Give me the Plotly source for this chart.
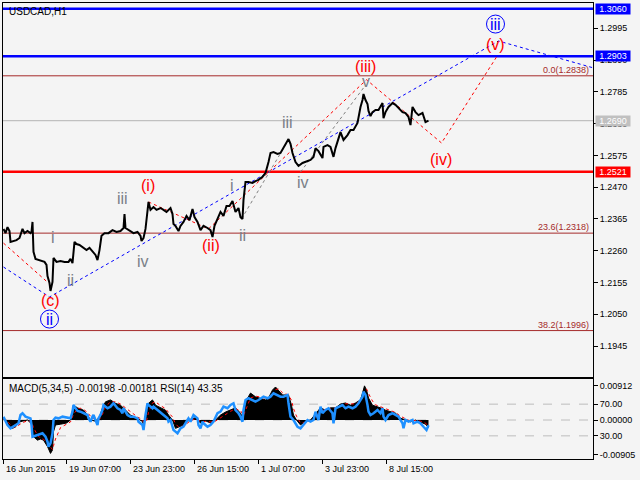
import plotly.graph_objects as go

# ---------------- data ----------------
price_bar = [0, 2, 4, 6, 7, 10, 13, 16, 18, 19, 21, 24, 27, 28, 29, 30, 32, 35, 38, 41, 43, 44, 46, 47, 49, 50,
             53, 57, 61, 65, 67, 69, 71, 73, 76, 79, 83, 86, 89, 92, 94, 96, 98, 101, 105, 109, 113, 117, 120,
             121, 122, 125, 130, 134, 137, 138, 140, 142, 144, 145, 147, 150, 153, 157, 160, 163, 167, 169, 170,
             172, 175, 177, 180, 183, 186, 189, 191, 194, 197, 200, 204, 207, 209, 211, 214, 217, 220, 223, 226,
             229, 232, 235, 237, 239, 240, 242, 245, 249, 252, 255, 259, 262, 265, 267, 270, 274, 277, 280, 285,
             287, 289, 292, 295, 299, 302, 305, 307, 310, 312, 315, 319, 320, 324, 327, 330, 332, 335, 337, 340,
             344, 347, 350, 354, 355, 357, 359, 360, 362, 364, 365, 367, 369, 372, 375, 379, 380, 382, 385, 389,
             392, 395, 399, 402, 405, 407, 409, 412, 415, 419, 422, 425]
price_close = [1.2332, 1.2318, 1.2338, 1.2325, 1.2289, 1.2292, 1.2295, 1.2302, 1.2318, 1.2332, 1.2318, 1.2325,
               1.2318, 1.2322, 1.2355, 1.2256, 1.2233, 1.2229, 1.2226, 1.2223, 1.2213, 1.2176, 1.2153, 1.2127,
               1.2157, 1.2236, 1.2223, 1.2226, 1.2223, 1.2223, 1.2233, 1.2219, 1.2289, 1.2282, 1.2279, 1.2272,
               1.2262, 1.2269, 1.2259, 1.2246, 1.2229, 1.2262, 1.2309, 1.2318, 1.2318, 1.2328, 1.2322, 1.2325,
               1.2335, 1.2381, 1.2335, 1.2328, 1.2318, 1.2322, 1.2309, 1.2292, 1.2302, 1.2332, 1.2385, 1.2421,
               1.2395, 1.2404, 1.2395, 1.2401, 1.2395, 1.2388, 1.2401, 1.2381, 1.2348, 1.2342, 1.2325, 1.2342,
               1.2355, 1.2375, 1.2361, 1.2398, 1.2371, 1.2355, 1.2328, 1.2342, 1.2335, 1.2328, 1.2305, 1.2342,
               1.2365, 1.2388, 1.2375, 1.2408, 1.2408, 1.2424, 1.2388, 1.2401, 1.2371, 1.2365, 1.2428, 1.2487,
               1.2487, 1.2484, 1.2490, 1.2494, 1.2504, 1.2517, 1.2553, 1.2583, 1.2586, 1.2580, 1.2583, 1.2599,
               1.2629, 1.2613, 1.2583, 1.2553, 1.2540, 1.2550, 1.2553, 1.2556, 1.2560, 1.2570, 1.2599, 1.2589,
               1.2566, 1.2603, 1.2609, 1.2603, 1.2570, 1.2599, 1.2636, 1.2652, 1.2626, 1.2642, 1.2659, 1.2659,
               1.2682, 1.2702, 1.2735, 1.2758, 1.2778, 1.2758, 1.2745, 1.2722, 1.2705, 1.2718, 1.2725, 1.2725,
               1.2748, 1.2698, 1.2718, 1.2735, 1.2748, 1.2742, 1.2732, 1.2718, 1.2715, 1.2702, 1.2675, 1.2735,
               1.2718, 1.2708, 1.2715, 1.2685, 1.2690]

macd_bar = [0, 3, 6, 9, 12, 15, 19, 24, 28, 30, 34, 37, 40, 44, 47, 49, 50, 52, 57, 63, 67, 70, 74, 77, 80, 84,
            87, 92, 96, 99, 102, 107, 112, 117, 122, 127, 134, 139, 140, 143, 145, 149, 152, 157, 162, 165, 169,
            172, 175, 180, 184, 187, 192, 197, 202, 207, 212, 217, 222, 227, 232, 237, 240, 243, 247, 252, 257,
            262, 265, 269, 272, 275, 279, 285, 288, 290, 293, 297, 302, 307, 312, 317, 322, 327, 332, 337, 342,
            347, 352, 357, 359, 361, 363, 365, 369, 372, 377, 382, 387, 392, 397, 402, 407, 412, 417, 422, 425]
macd_main = [0.0004, -0.0004, -0.0018, -0.0022, -0.0018, -0.0006, -0.0003, 0.0000, -0.0010, -0.0044, -0.0053,
             -0.0050, -0.0053, -0.0070, -0.0088, -0.0079, -0.0031, -0.0013, -0.0011, -0.0008, 0.0000, 0.0039,
             0.0032, 0.0029, 0.0026, 0.0013, 0.0000, -0.0003, 0.0008, 0.0032, 0.0048, 0.0053, 0.0044, 0.0039,
             0.0026, 0.0013, 0.0004, -0.0004, -0.0013, 0.0010, 0.0044, 0.0053, 0.0039, 0.0032, 0.0026, 0.0013,
             0.0000, -0.0022, -0.0018, -0.0013, -0.0004, 0.0002, 0.0006, -0.0008, -0.0002, -0.0008, 0.0000,
             0.0013, 0.0021, 0.0026, 0.0032, 0.0018, 0.0002, 0.0053, 0.0071, 0.0061, 0.0058, 0.0053, 0.0058,
             0.0079, 0.0087, 0.0079, 0.0066, 0.0066, 0.0039, 0.0013, 0.0000, -0.0013, -0.0003, 0.0000, 0.0016,
             0.0032, 0.0026, 0.0032, 0.0032, 0.0042, 0.0045, 0.0039, 0.0045, 0.0053, 0.0071, 0.0090, 0.0079,
             0.0058, 0.0039, 0.0037, 0.0032, 0.0026, 0.0021, 0.0018, 0.0005, 0.0000, -0.0005, 0.0000, -0.0005,
             -0.0011, -0.00198]
macd_signal = [0.0002, 0.0000, -0.0010, -0.0016, -0.0019, -0.0014, -0.0007, -0.0002, -0.0004, -0.0020, -0.0040,
               -0.0048, -0.0051, -0.0060, -0.0072, -0.0078, -0.0068, -0.0050, -0.0020, -0.0011, -0.0005, 0.0015,
               0.0030, 0.0031, 0.0028, 0.0020, 0.0010, 0.0001, 0.0002, 0.0015, 0.0035, 0.0048, 0.0048, 0.0042,
               0.0032, 0.0020, 0.0008, 0.0001, -0.0006, -0.0003, 0.0020, 0.0045, 0.0048, 0.0038, 0.0030, 0.0020,
               0.0008, -0.0010, -0.0018, -0.0016, -0.0008, -0.0002, 0.0003, -0.0003, -0.0004, -0.0005, -0.0003,
               0.0006, 0.0016, 0.0023, 0.0029, 0.0025, 0.0012, 0.0030, 0.0058, 0.0063, 0.0060, 0.0056, 0.0056,
               0.0068, 0.0080, 0.0082, 0.0072, 0.0066, 0.0052, 0.0030, 0.0010, -0.0008, -0.0007, -0.0002, 0.0008,
               0.0024, 0.0028, 0.0030, 0.0032, 0.0038, 0.0043, 0.0042, 0.0043, 0.0049, 0.0060, 0.0078, 0.0082,
               0.0070, 0.0050, 0.0040, 0.0035, 0.0029, 0.0024, 0.0020, 0.0010, 0.0003, -0.0003, -0.0001, -0.0003,
               -0.0008, -0.00181]

rsi_bar = [0, 4, 7, 10, 15, 17, 19, 22, 27, 28, 29, 34, 39, 42, 44, 45, 47, 49, 50, 52, 55, 59, 64, 67, 69, 70,
           72, 74, 77, 80, 84, 85, 87, 89, 90, 92, 94, 95, 97, 99, 100, 104, 107, 110, 114, 117, 119, 120, 122,
           124, 127, 130, 134, 135, 139, 140, 142, 144, 145, 149, 150, 154, 157, 160, 164, 165, 167, 169, 170,
           172, 174, 177, 180, 184, 185, 187, 190, 194, 195, 197, 199, 200, 204, 207, 210, 214, 217, 220, 224,
           227, 230, 232, 235, 237, 239, 240, 242, 245, 249, 252, 255, 260, 264, 267, 270, 274, 277, 280, 284,
           285, 287, 290, 294, 297, 300, 304, 307, 310, 312, 315, 317, 319, 322, 325, 329, 330, 332, 335, 339,
           342, 345, 349, 352, 355, 359, 360, 362, 364, 365, 367, 370, 374, 377, 379, 380, 382, 385, 389, 392,
           395, 399, 400, 402, 405, 409, 410, 414, 417, 420, 423, 425]
rsi_val = [54.2, 43.7, 39.5, 41.6, 45.8, 56.3, 58.5, 54.2, 52.1, 43.7, 28.9, 31.1, 33.2, 28.9, 22.6, 16.3, 20.6,
           33.2, 50.0, 52.9, 52.1, 54.2, 52.9, 52.1, 60.5, 68.9, 64.8, 61.4, 60.5, 58.5, 56.3, 52.1, 47.9, 54.2,
           56.3, 50.0, 43.7, 52.1, 56.3, 62.6, 68.9, 64.8, 66.8, 71.1, 64.8, 62.6, 58.5, 64.8, 60.5, 56.3, 54.2,
           54.2, 52.1, 47.9, 43.7, 37.4, 56.3, 71.1, 68.9, 64.8, 66.8, 62.6, 58.5, 56.3, 52.1, 47.9, 50.0, 41.6,
           37.4, 35.3, 33.2, 39.5, 41.6, 50.0, 52.1, 47.9, 56.3, 52.1, 43.7, 39.5, 47.9, 45.8, 41.6, 43.7, 47.9,
           58.5, 60.5, 66.8, 64.8, 68.9, 71.1, 62.6, 58.5, 54.2, 47.9, 62.6, 75.2, 77.4, 75.2, 73.1, 75.2, 79.4,
           77.4, 79.4, 83.7, 81.6, 79.4, 79.4, 81.6, 71.1, 54.2, 50.0, 41.5, 39.5, 43.7, 50.0, 47.9, 50.0, 60.5,
           50.0, 66.8, 58.5, 62.6, 64.8, 58.5, 45.8, 64.8, 66.8, 68.9, 64.8, 66.8, 64.8, 66.8, 71.1, 79.4, 85.7,
           81.6, 68.9, 60.5, 56.3, 58.5, 62.6, 58.5, 64.8, 54.2, 50.0, 56.3, 58.5, 56.3, 54.2, 45.8, 39.5, 50.0,
           47.9, 50.0, 45.8, 47.9, 45.8, 41.5, 37.4, 43.35]

# Elliott wave dotted paths (None breaks a path)
blue_wave_bar = [0, 46, 495, 590]
blue_wave_price = [1.2206, 1.2107, 1.2953, 1.2864]
red_wave_bar = [0, 45, None, 145, 205, 363, 438, 493]
red_wave_price = [1.2285, 1.2153, None, 1.2421, 1.2332, 1.2825, 1.2616, 1.2900]
gray_wave_bar = [238, 285, None, 297, 360]
gray_wave_price = [1.2365, 1.2626, None, 1.2520, 1.2798]

# wave labels: text, bar, price, kind
label_text = ["i", "ii", "(c)", "ii", "iii", "iv", "(i)", "(ii)", "i", "ii", "iii", "iv", "v", "(iii)",
              "(iv)", "(v)", "iii"]
label_bar = [49, 67, 47, 46, 119, 139, 144, 207, 228, 239, 284, 299, 362, 362, 437, 492, 492]
label_price = [1.2302, 1.2163, 1.2097, 1.2034, 1.2434, 1.2223, 1.2474, 1.2276, 1.2474, 1.2309, 1.2685,
               1.2487, 1.2818, 1.2870, 1.2560, 1.2940, 1.3009]
label_kind = ["gray", "gray", "red", "blue", "gray", "gray", "red", "red", "gray", "gray", "gray", "gray",
              "gray", "red", "red", "red", "blue"]

level_prices = [1.3060, 1.2903, 1.2690, 1.2521]
level_text = ["1.3060", "1.2903", "1.2690", "1.2521"]
fib_prices = [1.2838, 1.2318, 1.1996]
fib_text = ["0.0(1.2838)", "23.6(1.2318)", "38.2(1.1996)"]
price_ticks = [1.2995, 1.2890, 1.2785, 1.2680, 1.2575, 1.2470, 1.2365, 1.2260, 1.2155, 1.2050, 1.1945]
price_tick_text = ["1.2995", "1.2890", "1.2785", "1.2680", "1.2575", "1.2470", "1.2365", "1.2260", "1.2155",
                   "1.2050", "1.1945"]
time_tick_bar = [0, 63, 127, 191, 255, 319, 383]
time_tick_text = ["16 Jun 2015", "19 Jun 07:00", "23 Jun 23:00", "26 Jun 15:00", "1 Jul 07:00",
                  "3 Jul 23:00", "8 Jul 15:00"]
macd_ticks = [0.00912, 0.0, -0.00905]
macd_tick_text = ["0.00912", "0.00000", "-0.00905"]
rsi_ticks = [70, 30]
rsi_tick_text = ["70.00", "30.00"]

# ---------------- styling ----------------
BG = "#F4F4F4"
FONT = "Liberation Sans, Arial, sans-serif"
BROWN = "#A52A2A"
level_colors = ["#0000FF", "#0000FF", "#C0C0C0", "#FF0000"]
level_widths = [2.5, 2.5, 1.2, 2.5]
kind_color = {"gray": "#7A8088", "red": "#FF0000", "blue": "#0000FF"}

fig = go.Figure()

fig.add_trace(go.Scatter(x=blue_wave_bar, y=blue_wave_price, mode="lines",
                         line=dict(color="#0000FF", width=1, dash="dot"), xaxis="x", yaxis="y"))
fig.add_trace(go.Scatter(x=red_wave_bar, y=red_wave_price, mode="lines", connectgaps=False,
                         line=dict(color="#FF0000", width=1, dash="dot"), xaxis="x", yaxis="y"))
fig.add_trace(go.Scatter(x=gray_wave_bar, y=gray_wave_price, mode="lines", connectgaps=False,
                         line=dict(color="#808080", width=1, dash="dot"), xaxis="x", yaxis="y"))
fig.add_trace(go.Scatter(x=price_bar, y=price_close, mode="lines",
                         line=dict(color="black", width=2), xaxis="x", yaxis="y"))

fig.add_trace(go.Scatter(x=macd_bar, y=macd_main, mode="lines", fill="tozeroy", fillcolor="black",
                         line=dict(color="black", width=1), xaxis="x2", yaxis="y2"))
fig.add_trace(go.Scatter(x=macd_bar, y=macd_signal, mode="lines",
                         line=dict(color="#FF0000", width=1, dash="dot"), xaxis="x2", yaxis="y2"))
fig.add_trace(go.Scatter(x=rsi_bar, y=rsi_val, mode="lines",
                         line=dict(color="#1E90FF", width=2.5), xaxis="x2", yaxis="y3"))

shapes = []
for p, c, w in zip(level_prices, level_colors, level_widths):
    shapes.append(dict(type="line", xref="x domain", yref="y", x0=0, x1=1, y0=p, y1=p,
                       line=dict(color=c, width=w), layer="below"))
for p in fib_prices:
    shapes.append(dict(type="line", xref="x domain", yref="y", x0=0, x1=1, y0=p, y1=p,
                       line=dict(color=BROWN, width=1), layer="below"))
for v, yr in [(70, "y3"), (30, "y3"), (0, "y2")]:
    shapes.append(dict(type="line", xref="x2 domain", yref=yr, x0=0, x1=1, y0=v, y1=v,
                       line=dict(color="#BDBDBD", width=1, dash="dash"), layer="below"))

annotations = []
for p, t, c in zip(level_prices, level_text, level_colors):
    annotations.append(dict(xref="paper", yref="y", x=1, y=p, xanchor="left", yanchor="middle", xshift=2,
                            text=t, showarrow=False, bgcolor=c, width=34, height=10, borderpad=0,
                            font=dict(family=FONT, size=9, color="white")))
for p, t in zip(fib_prices, fib_text):
    annotations.append(dict(xref="paper", yref="y", x=1, y=p, xanchor="right", yanchor="bottom", xshift=-2,
                            yshift=-1, text=t, showarrow=False,
                            font=dict(family=FONT, size=9, color=BROWN)))
for t, b, p, k in zip(label_text, label_bar, label_price, label_kind):
    annotations.append(dict(xref="x", yref="y", x=b, y=p, text=t, showarrow=False, xanchor="center",
                            yanchor="middle", font=dict(family=FONT, size=16, color=kind_color[k])))
    if k == "blue":
        shapes.append(dict(type="circle", xref="x", yref="y", xsizemode="pixel", ysizemode="pixel",
                           xanchor=b, yanchor=p, x0=-9, x1=9, y0=-9, y1=9,
                           line=dict(color="#0000FF", width=1)))
for b, t in zip(time_tick_bar, time_tick_text):
    annotations.append(dict(xref="x2", yref="paper", x=b, y=0, xanchor="left", yanchor="top", yshift=-3,
                            text=t, showarrow=False, font=dict(family=FONT, size=9, color="black")))
annotations.append(dict(xref="paper", yref="paper", x=0, y=1, xanchor="left", yanchor="top", xshift=4,
                        yshift=-1, text="USDCAD,H1", showarrow=False,
                        font=dict(family=FONT, size=10, color="black")))
annotations.append(dict(xref="paper", yref="paper", x=0, y=0.1754, xanchor="left", yanchor="top", xshift=4,
                        yshift=-2, text="MACD(5,34,5) -0.00198 -0.00181 RSI(14) 43.35", showarrow=False,
                        font=dict(family=FONT, size=10, color="black")))

axis_common = dict(showline=True, linecolor="black", linewidth=1, mirror=True, showgrid=False,
                   zeroline=False)

fig.update_layout(
    width=640, height=480, autosize=False,
    paper_bgcolor=BG, plot_bgcolor=BG,
    margin=dict(l=3, r=47, t=3, b=21),
    showlegend=False,
    font=dict(family=FONT, size=9, color="black"),
    xaxis=dict(domain=[0, 1], range=[-0.5, 589.5], anchor="y", showticklabels=False, ticks="",
               **axis_common),
    yaxis=dict(domain=[0.1798, 1], range=[1.18425, 1.30786], side="right", anchor="x",
               tickmode="array", tickvals=price_ticks, ticktext=price_tick_text,
               ticks="outside", ticklen=4, tickcolor="black", automargin=False,
               tickfont=dict(family=FONT, size=9, color="black"), **axis_common),
    xaxis2=dict(domain=[0, 1], range=[-0.5, 589.5], anchor="y2", showticklabels=False,
                tickmode="array", tickvals=time_tick_bar, ticks="outside", ticklen=4, tickcolor="black",
                **axis_common),
    yaxis2=dict(domain=[0, 0.1754], range=[-0.01027, 0.0108], side="right", anchor="x2",
                tickmode="array", tickvals=macd_ticks, ticktext=macd_tick_text,
                ticks="outside", ticklen=4, tickcolor="black", automargin=False,
                tickfont=dict(family=FONT, size=9, color="black"), **axis_common),
    yaxis3=dict(range=[0.8, 101.7], side="right", anchor="x2", overlaying="y2",
                tickmode="array", tickvals=rsi_ticks, ticktext=rsi_tick_text, automargin=False,
                ticks="outside", ticklen=4, tickcolor="black", showgrid=False, zeroline=False,
                tickfont=dict(family=FONT, size=9, color="black")),
    shapes=shapes,
    annotations=annotations,
)

fig.write_html("out.html", config={"displayModeBar": False},
               post_script="document.body.style.margin='0px';document.body.style.overflow='hidden';")
